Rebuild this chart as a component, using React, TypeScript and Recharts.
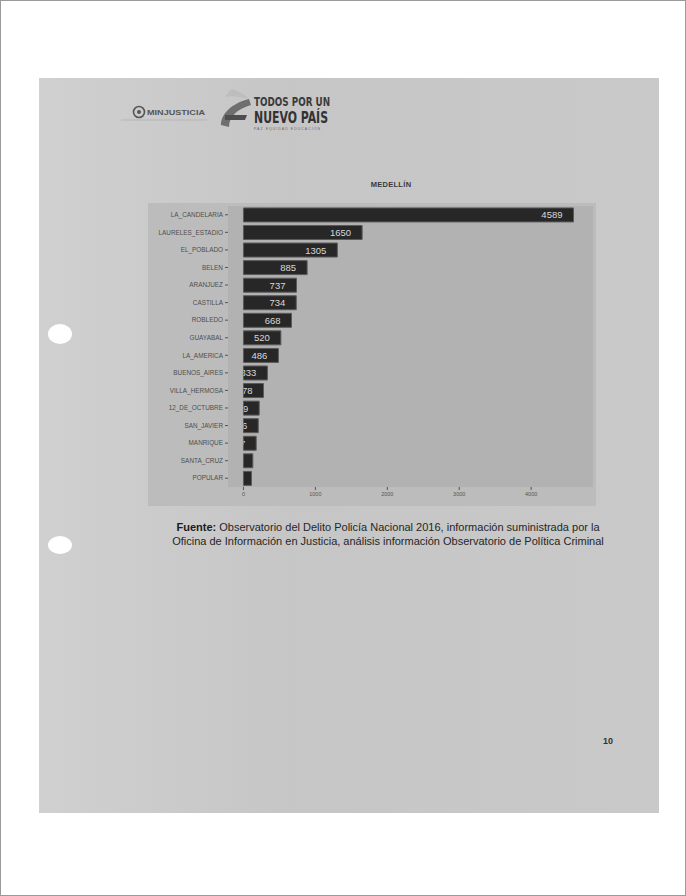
import React from "react"
import { BarChart, Bar, XAxis, YAxis, CartesianGrid, LabelList } from "recharts"

const comunas = [
  "LA_CANDELARIA",
  "LAURELES_ESTADIO",
  "EL_POBLADO",
  "BELEN",
  "ARANJUEZ",
  "CASTILLA",
  "ROBLEDO",
  "GUAYABAL",
  "LA_AMERICA",
  "BUENOS_AIRES",
  "VILLA_HERMOSA",
  "12_DE_OCTUBRE",
  "SAN_JAVIER",
  "MANRIQUE",
  "SANTA_CRUZ",
  "POPULAR",
]
const casos = [4589, 1650, 1305, 885, 737, 734, 668, 520, 486, 333, 278, 219, 206, 177, 130, 111]
const xTicks = [0, 1000, 2000, 3000, 4000]

const data = comunas.map((c, i) => ({ comuna: c, casos: casos[i] }))

const font = "'Liberation Sans', Arial, sans-serif"
const condensed = "'DejaVu Sans Condensed', 'Liberation Sans Narrow', sans-serif"

// value label drawn inside the bar end, clipped to the bar itself
const renderValue = (props: any) => {
  const { x, y, width, height, value, index } = props
  const id = `clip-bar-${index}`
  return (
    <g>
      <clipPath id={id}>
        <rect x={x} y={y} width={width} height={height} />
      </clipPath>
      <text
        x={x + width - 11}
        y={y + height / 2 + 3.5}
        textAnchor="end"
        fontSize={9.5}
        fill="#d8d8d8"
        fontFamily={font}
        clipPath={`url(#${id})`}
      >
        {value}
      </text>
    </g>
  )
}

export default function App() {
  return (
    <div
      style={{
        position: "absolute",
        left: 0,
        top: 0,
        width: 686,
        height: 896,
        background: "#ffffff",
        boxSizing: "border-box",
        border: "1px solid #9a9a9a",
        overflow: "hidden",
        fontFamily: font,
      }}
    >
      {/* scanned sheet */}
      <div
        style={{
          position: "absolute",
          left: 38,
          top: 77,
          width: 620,
          height: 735,
          background: "linear-gradient(90deg, #d0d0d0 0%, #c6c6c6 40%, #c9c9c9 100%)",
        }}
      />
      {/* punch holes */}
      <div style={{ position: "absolute", left: 47, top: 323, width: 24, height: 20, borderRadius: "50%", background: "#fff" }} />
      <div style={{ position: "absolute", left: 47, top: 535, width: 24, height: 18, borderRadius: "50%", background: "#fff" }} />

      {/* header logos */}
      <svg style={{ position: "absolute", left: 120, top: 84 }} width={240} height={50}>
        <circle cx={18} cy={27} r={5.5} fill="none" stroke="#555" strokeWidth={1.6} />
        <circle cx={18} cy={27} r={2} fill="#555" />
        <text x={26} y={30} fontSize={7} fontWeight="bold" fill="#555" fontFamily={font} textLength={58} lengthAdjust="spacingAndGlyphs">
          MINJUSTICIA
        </text>
        <line x1={0} y1={35} x2={86} y2={35} stroke="#aaa" strokeWidth={0.6} />
        <path d="M128 14 C 112 18, 100 28, 100 40 L 108 42 C 108 32, 116 24, 130 20 Z" fill="#6f6f6f" />
        <path d="M104 30 L 126 30 L 124 35 L 104 35 Z" fill="#4e4e4e" />
        <path d="M110 4 C 118 6, 124 10, 128 14 C 120 12, 112 10, 104 12 Z" fill="#bdbdbd" />
        <text x={133} y={21} fontSize={12} fontWeight="bold" fill="#3b3b3b" fontFamily={condensed} textLength={76} lengthAdjust="spacingAndGlyphs">
          TODOS POR UN
        </text>
        <text x={133} y={38} fontSize={15} fontWeight="bold" fill="#333" fontFamily={condensed} textLength={74} lengthAdjust="spacingAndGlyphs">
          NUEVO PAÍS
        </text>
        <text x={133} y={45} fontSize={3.5} fill="#666" fontFamily={font} textLength={66} lengthAdjust="spacing">
          PAZ EQUIDAD EDUCACIÓN
        </text>
      </svg>

      {/* title */}
      <div
        style={{
          position: "absolute",
          left: 290,
          top: 179,
          width: 200,
          textAlign: "center",
          fontSize: 7.5,
          fontWeight: "bold",
          color: "#3a3a3a",
          letterSpacing: 0.3,
        }}
      >
        MEDELLÍN
      </div>

      {/* chart panel */}
      <div style={{ position: "absolute", left: 147, top: 202, width: 448, height: 303, background: "#bcbcbc" }}>
        <BarChart
          width={448}
          height={300}
          data={data}
          layout="vertical"
          margin={{ top: 3, right: 3, bottom: 0, left: 0 }}
          barCategoryGap="11%"
        >
          <CartesianGrid horizontal={false} vertical={false} fill="#b2b2b2" />
          <XAxis
            type="number"
            domain={[-215, 4860]}
            ticks={xTicks}
            allowDataOverflow
            axisLine={false}
            tickSize={3}
            tickLine={{ stroke: "#555" }}
            height={16}
            tick={{ fontSize: 5.5, fill: "#555", fontFamily: font }}
          />
          <YAxis
            type="category"
            dataKey="comuna"
            width={80}
            axisLine={false}
            tickSize={3}
            tickLine={{ stroke: "#555" }}
            interval={0}
            tick={{ fontSize: 6.4, fill: "#4e4e4e", fontFamily: font }}
          />
          <Bar dataKey="casos" fill="#272727" stroke="#5a5a5a" strokeWidth={1} isAnimationActive={false}>
            <LabelList dataKey="casos" content={renderValue} />
          </Bar>
        </BarChart>
      </div>

      {/* source note */}
      <div
        style={{
          position: "absolute",
          left: 132,
          top: 520,
          width: 510,
          textAlign: "center",
          fontSize: 11,
          lineHeight: "13.5px",
          color: "#262626",
        }}
      >
        <b style={{ color: "#1a1a1a" }}>Fuente:</b> Observatorio del Delito Policía Nacional 2016, información suministrada por la
        <br />
        Oficina de Información en Justicia, análisis información Observatorio de Política Criminal
      </div>

      {/* page number */}
      <div style={{ position: "absolute", left: 602, top: 735, fontSize: 9, fontWeight: "bold", color: "#333" }}>10</div>
    </div>
  )
}
